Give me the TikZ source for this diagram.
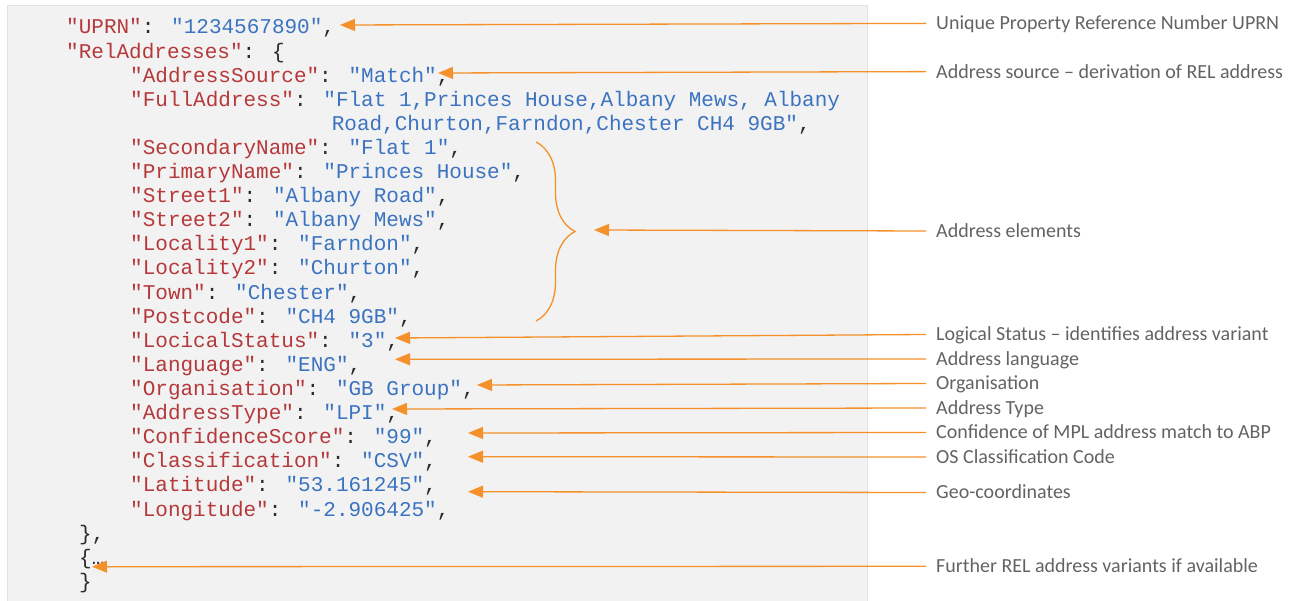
\documentclass[tikz,border=0pt]{standalone}
\usepackage{fontspec}
\usepackage{tikz}
\usetikzlibrary{arrows.meta,decorations.pathreplacing}
\newfontfamily\codefont{Liberation Mono}
\newfontfamily\notefont{Carlito}
\definecolor{keyred}{HTML}{B5393B}
\definecolor{valblue}{HTML}{3B73C0}
\definecolor{punct}{HTML}{2B2B2B}
\definecolor{arroworange}{HTML}{F5912A}
\definecolor{boxgray}{HTML}{F2F2F2}
\definecolor{boxline}{HTML}{E2E2E2}
\definecolor{notegray}{HTML}{636363}
\def\rowy{34}
\def\rowh{24.1}
\tikzstyle{code}=[anchor=base west,inner sep=0pt,text=punct,font=\codefont\fontsize{21}{24}\selectfont]
\tikzstyle{note}=[anchor=west,inner xsep=10pt,inner ysep=0pt,text height=13pt,text depth=0pt,text=notegray,font=\notefont\fontsize{20}{24}\selectfont]
\tikzstyle{pointer}=[draw=arroworange,line width=1.3pt,-{Triangle[length=15pt,width=12pt]}]
\newcommand{\jk}[1]{\textcolor{keyred}{"#1"}}
\newcommand{\jv}[1]{\textcolor{valblue}{"#1"}}
\newcommand{\newLine}[4]{\node[code](#1) at (#2,\rowy+\rowh*#3) {#4};}
\newcommand{\newNote}[4]{\node[note](#1) at (926,#3) {#2};
  \coordinate (#1Tip) at #4;
  \draw[pointer] (#1.west) -- (#1Tip);}

\begin{document}
\begin{tikzpicture}[x=1pt,y=-1pt]
    \useasboundingbox (0,0) rectangle (1302,601);
    \draw[fill=boxgray,draw=boxline,line width=1pt] (7,6) rectangle (867,640);
    % json record
    \newLine{l0}{66}{0}{\jk{UPRN}: \jv{1234567890},}
    \newLine{l1}{66}{1}{\jk{RelAddresses}: \{}
    \newLine{l2}{130}{2}{\jk{AddressSource}: \jv{Match},}
    \newLine{l3}{130}{3}{\jk{FullAddress}: \textcolor{valblue}{"Flat 1,Princes House,Albany Mews, Albany}}
    \newLine{l4}{331.6}{4}{\textcolor{valblue}{Road,Churton,Farndon,Chester CH4 9GB"},}
    \newLine{l5}{130}{5}{\jk{SecondaryName}: \jv{Flat 1},}
    \newLine{l6}{130}{6}{\jk{PrimaryName}: \jv{Princes House},}
    \newLine{l7}{130}{7}{\jk{Street1}: \jv{Albany Road},}
    \newLine{l8}{130}{8}{\jk{Street2}: \jv{Albany Mews},}
    \newLine{l9}{130}{9}{\jk{Locality1}: \jv{Farndon},}
    \newLine{l10}{130}{10}{\jk{Locality2}: \jv{Churton},}
    \newLine{l11}{130}{11}{\jk{Town}: \jv{Chester},}
    \newLine{l12}{130}{12}{\jk{Postcode}: \jv{CH4 9GB},}
    \newLine{l13}{130}{13}{\jk{LocicalStatus}: \jv{3},}
    \newLine{l14}{130}{14}{\jk{Language}: \jv{ENG},}
    \newLine{l15}{130}{15}{\jk{Organisation}: \jv{GB Group},}
    \newLine{l16}{130}{16}{\jk{AddressType}: \jv{LPI},}
    \newLine{l17}{130}{17}{\jk{ConfidenceScore}: \jv{99},}
    \newLine{l18}{130}{18}{\jk{Classification}: \jv{CSV},}
    \newLine{l19}{130}{19}{\jk{Latitude}: \jv{53.161245},}
    \newLine{l20}{130}{20}{\jk{Longitude}: \jv{-2.906425},}
    \newLine{l21}{79}{21}{\},}
    \newLine{l22}{79}{22}{\{…}
    \newLine{l23}{79}{23}{\}}
    \draw[arroworange,line width=1.3pt,decorate,decoration={brace,amplitude=39pt}] (536,142) -- (536,321);
    % notes and pointers
    \newNote{uprn}{Unique Property Reference Number UPRN}{23.4}{(340,25)}
    \newNote{src}{Address source – derivation of REL address}{71.6}{(438,73)}
    \newNote{elem}{Address elements}{231}{(594,230)}
    \newNote{stat}{Logical Status – identifies address variant}{334.5}{(395,338)}
    \newNote{lang}{Address language}{359}{(395,359.3)}
    \newNote{org}{Organisation}{383.5}{(477,385)}
    \newNote{type}{Address Type}{408}{(392,409)}
    \newNote{conf}{Confidence of MPL address match to ABP}{432.5}{(468,433)}
    \newNote{cls}{OS Classification Code}{457}{(468,456.7)}
    \newNote{geo}{Geo-coordinates}{492.5}{(468,491.7)}
    \newNote{more}{Further REL address variants if available}{566.3}{(92,566.7)}
\end{tikzpicture}
\end{document}
